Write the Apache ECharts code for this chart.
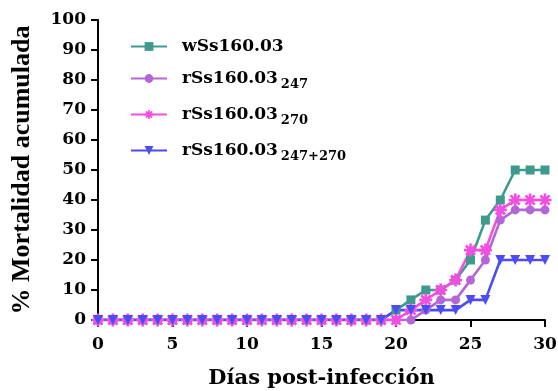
<!DOCTYPE html>
<html><head><meta charset="utf-8">
<script src="https://cdn.jsdelivr.net/npm/echarts@6/dist/echarts.min.js"></script>
<style>html,body{margin:0;padding:0;background:#fff}#c{width:558px;height:391px}</style>
</head><body><div id="c"></div>
<script>
var days = [];
for (var d = 0; d <= 30; d++) days.push(d);
var zeros19 = [0,0,0,0,0,0,0,0,0,0,0,0,0,0,0,0,0,0,0,0];
var wSs = zeros19.concat([3.3, 6.7, 10, 10, 13.3, 20, 33.3, 40, 50, 50, 50]);
var rSs247 = zeros19.concat([0, 0, 3.3, 6.7, 6.7, 13.3, 20, 33.3, 36.7, 36.7, 36.7]);
var rSs270 = zeros19.concat([0, 3.3, 6.7, 10, 13.3, 23.3, 23.3, 36.7, 40, 40, 40]);
var rSs247_270 = zeros19.concat([3.3, 3.3, 3.3, 3.3, 3.3, 6.7, 6.7, 20, 20, 20, 20]);
var seriesNames = ['wSs160.03', 'rSs160.03_247', 'rSs160.03_270', 'rSs160.03_247+270'];
var legendLabels = {
  'wSs160.03': '{b|wSs160.03}',
  'rSs160.03_247': '{b|rSs160.03}{s|247}',
  'rSs160.03_270': '{b|rSs160.03}{s|270}',
  'rSs160.03_247+270': '{b|rSs160.03}{s|247+270}'
};
var colors = ['#3f9a8e', '#b466d6', '#f24ee0', '#4b4cf6'];
var star = 'path://M-1,-5L1,-5L1,5L-1,5Z M-5,-1L5,-1L5,1L-5,1Z M2.83,-4.24L4.24,-2.83L-2.83,4.24L-4.24,2.83Z M-4.24,-2.83L-2.83,-4.24L4.24,2.83L2.83,4.24Z';
function pairs(arr){ return days.map(function(d,i){ return [d, arr[i]]; }); }
var font = 'Liberation Serif';
var wfont = 'DejaVu Serif';
var chart = echarts.init(document.getElementById('c'), null, {renderer:'canvas'});
function mk(name, data, color, symbol, size, rot){
  return {name:name, type:'line', data:pairs(data), symbol:symbol, symbolSize:size, symbolRotate:rot||0,
    lineStyle:{color:color, width:2.6}, itemStyle:{color:color}, animation:false};
}
chart.setOption({
  animation:false,
  grid:{left:98, right:13, top:20, bottom:71, containLabel:false, outerBoundsMode:'none'},
  legend:{
    orient:'vertical', left:125, top:33, itemGap:11, itemWidth:36, itemHeight:11,
    data:seriesNames,
    formatter:function(n){ return legendLabels[n]; },
    textStyle:{fontFamily:wfont, fontWeight:'bold', color:'#000', fontSize:17,
      rich:{b:{fontFamily:wfont, fontWeight:'bold', fontSize:17, color:'#000', lineHeight:24, padding:[0,0,0,10]},
            s:{fontFamily:wfont, fontWeight:'bold', fontSize:13, color:'#000', lineHeight:24, padding:[12,0,0,3]}}}
  },
  xAxis:{type:'value', min:0, max:30, interval:5,
    name:'Días post-infección', nameLocation:'middle', nameGap:48,
    nameTextStyle:{fontFamily:wfont, fontWeight:'bold', fontSize:21, color:'#000'},
    axisLine:{lineStyle:{color:'#000', width:2}},
    axisTick:{lineStyle:{color:'#000', width:2}, length:7},
    axisLabel:{fontFamily:wfont, fontWeight:'bold', fontSize:17, color:'#000', margin:16},
    splitLine:{show:false}},
  yAxis:{type:'value', min:0, max:100, interval:10,
    name:'% Mortalidad acumulada', nameLocation:'middle', nameGap:63,
    nameTextStyle:{fontFamily:font, fontWeight:'bold', fontSize:26, color:'#000'},
    axisLine:{show:true, lineStyle:{color:'#000', width:2}},
    axisTick:{show:true, lineStyle:{color:'#000', width:2}, length:7},
    axisLabel:{fontFamily:wfont, fontWeight:'bold', fontSize:17, color:'#000', margin:12},
    splitLine:{show:false}},
  series:[
    mk(seriesNames[0], wSs, colors[0], 'rect', 9),
    mk(seriesNames[1], rSs247, colors[1], 'circle', 9),
    mk(seriesNames[2], rSs270, colors[2], star, 13),
    mk(seriesNames[3], rSs247_270, colors[3], 'triangle', 10, 180)
  ]
});
</script></body></html>
